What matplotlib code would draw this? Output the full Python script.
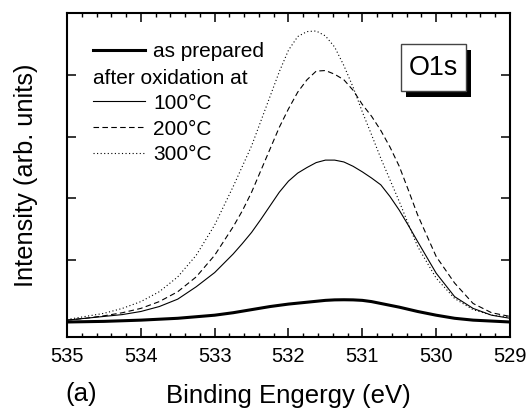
import matplotlib
matplotlib.use("Agg")
import matplotlib.pyplot as plt
from matplotlib.lines import Line2D
from matplotlib.patches import Rectangle
import numpy as np

plt.rcParams['font.family'] = ['Liberation Sans', 'DejaVu Sans']

energy = [535.0, 534.75, 534.5, 534.25, 534.0, 533.75, 533.5, 533.25, 533.0,
          532.75, 532.625, 532.5, 532.375, 532.25, 532.125, 532.0, 531.875,
          531.75, 531.625, 531.5, 531.375, 531.25, 531.125, 531.0, 530.875,
          530.75, 530.625, 530.5, 530.375, 530.25,
          530.0, 529.75, 529.5, 529.25, 529.0]

as_prepared = [0.0, 0.005, 0.01, 0.02, 0.03, 0.045, 0.06, 0.085, 0.11,
               0.15, 0.175, 0.20, 0.225, 0.25, 0.27, 0.29, 0.305,
               0.32, 0.335, 0.35, 0.358, 0.36, 0.358, 0.35, 0.33,
               0.30, 0.27, 0.24, 0.205, 0.17,
               0.11, 0.06, 0.03, 0.015, 0.0]

ox_100 = [0.03, 0.06, 0.09, 0.12, 0.17, 0.25, 0.37, 0.57, 0.80,
          1.10, 1.27, 1.45, 1.66, 1.88, 2.10, 2.28, 2.41,
          2.50, 2.58, 2.62, 2.62, 2.59, 2.52, 2.43, 2.33,
          2.22, 2.03, 1.81, 1.56, 1.30,
          0.79, 0.41, 0.22, 0.11, 0.06]

ox_200 = [0.03, 0.06, 0.10, 0.15, 0.22, 0.33, 0.49, 0.73, 1.08,
          1.54, 1.80, 2.10, 2.45, 2.80, 3.15, 3.45, 3.72,
          3.92, 4.06, 4.07, 4.01, 3.92, 3.75, 3.52, 3.33,
          3.10, 2.83, 2.52, 2.13, 1.73,
          1.06, 0.63, 0.30, 0.15, 0.09]

ox_300 = [0.04, 0.09, 0.14, 0.22, 0.33, 0.49, 0.73, 1.08, 1.57,
          2.19, 2.52, 2.85, 3.25, 3.65, 4.05, 4.40, 4.62,
          4.70, 4.71, 4.63, 4.45, 4.15, 3.80, 3.40, 3.03,
          2.65, 2.30, 1.95, 1.58, 1.22,
          0.71, 0.38, 0.20, 0.11, 0.08]

labels = ["as prepared", "100°C", "200°C", "300°C"]
group_label = "after oxidation at"
panel_label = "(a)"
peak_label = "O1s"
xticks = [535, 534, 533, 532, 531, 530, 529]

fig = plt.figure(figsize=(5.28, 4.08), dpi=100)
ax = fig.add_axes([0.1269, 0.174, 0.839, 0.794])

l0, = ax.plot(energy, as_prepared, color='black', lw=2.2)
l1, = ax.plot(energy, ox_100, color='black', lw=0.8)
l2, = ax.plot(energy, ox_200, color='black', lw=0.8, dashes=(5, 3))
l3, = ax.plot(energy, ox_300, color='black', lw=0.8, dashes=(1, 2.2))

ax.set_xlim(535, 529)
ax.set_ylim(-0.243, 5.0)
ax.set_xticks(xticks)
ax.set_xticklabels([str(t) for t in xticks])
ax.set_xticks(np.arange(529, 535.01, 0.2), minor=True)
ax.set_yticks([0, 1, 2, 3, 4])
ax.set_yticklabels([])
ax.tick_params(which='major', direction='in', length=6.5, width=1.1,
               top=True, right=True, labelsize=14.5, pad=7)
ax.tick_params(which='minor', direction='in', length=3.2, width=1.0,
               top=True, right=False, left=False)
for s in ax.spines.values():
    s.set_linewidth(1.5)

ax.set_xlabel("Binding Engergy (eV)", fontsize=18.5, labelpad=13)
ax.set_ylabel("Intensity (arb. units)", fontsize=18.3, labelpad=14)
fig.text(0.153, 0.016, panel_label, fontsize=18.5, ha='center', va='baseline')

blank = Line2D([], [], color='none')
leg = ax.legend([l0, blank, l1, l2, l3], [labels[0], "", labels[1], labels[2], labels[3]],
                loc='upper left', bbox_to_anchor=(0.0587, 0.911), frameon=False,
                fontsize=15, handlelength=2.5, handletextpad=0.4, labelspacing=0.33,
                borderpad=0, borderaxespad=0)
ax.text(0.0587, 0.799, group_label, transform=ax.transAxes, fontsize=15,
        ha='left', va='center')

# O1s box with shadow
ax.add_patch(Rectangle((0.7659, 0.7417), 0.1468, 0.1432, transform=ax.transAxes,
                       facecolor='black', edgecolor='none', zorder=5))
ax.add_patch(Rectangle((0.7546, 0.7602), 0.1468, 0.1432, transform=ax.transAxes,
                       facecolor='white', edgecolor='#444444', lw=1.0, zorder=6))
ax.text(0.828, 0.8318, peak_label, transform=ax.transAxes, fontsize=19.4,
        ha='center', va='center', zorder=7)

fig.savefig("out.png", dpi=100)
